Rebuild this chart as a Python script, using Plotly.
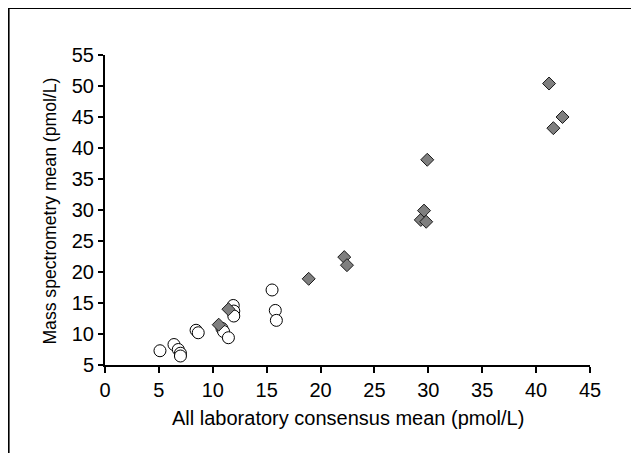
import plotly.graph_objects as go

# Open circles
circle_x = [5.1, 6.4, 6.8, 7.0, 7.0, 8.45, 8.65, 10.85, 11.0, 11.45, 11.9, 11.95, 11.95, 15.5, 15.8, 15.9]
circle_y = [7.3, 8.3, 7.5, 6.9, 6.45, 10.6, 10.2, 10.9, 10.4, 9.4, 14.6, 13.7, 12.9, 17.1, 13.8, 12.2]

# Grey diamonds
diamond_x = [10.55, 11.45, 18.9, 22.2, 22.45, 29.3, 29.6, 29.8, 29.9, 41.2, 41.6, 42.45]
diamond_y = [11.5, 14.0, 18.9, 22.4, 21.1, 28.4, 29.9, 28.1, 38.1, 50.4, 43.2, 45.0]

x_ticks = [0, 5, 10, 15, 20, 25, 30, 35, 40, 45]
y_ticks = [5, 10, 15, 20, 25, 30, 35, 40, 45, 50, 55]

x_title = "All laboratory consensus mean (pmol/L)"
y_title = "Mass spectrometry mean (pmol/L)"

# figure is drawn at an 8px offset inside the page
L, T, PW, PH = 96.5, 47.0, 485.5, 310.0

fig = go.Figure()
fig.add_trace(go.Scatter(
    x=circle_x, y=circle_y, mode="markers",
    marker=dict(symbol="circle", size=12, color="white",
                line=dict(color="black", width=1)),
    showlegend=False,
))
fig.add_trace(go.Scatter(
    x=diamond_x, y=diamond_y, mode="markers",
    marker=dict(symbol="diamond", size=10, color="#7f7f7f",
                line=dict(color="#1a1a1a", width=1)),
    showlegend=False,
))

font = dict(family="Liberation Sans, Arial, sans-serif", size=20, color="black")
yfont = dict(family="Liberation Sans, Arial, sans-serif", size=17.6, color="black")

fig.update_layout(
    width=639, height=453,
    margin=dict(l=L, r=639 - L - PW, t=T, b=453 - T - PH),
    paper_bgcolor="white", plot_bgcolor="white",
    font=font,
    xaxis=dict(
        range=[0, 45], tickvals=x_ticks, ticktext=[str(v) for v in x_ticks],
        showline=True, linecolor="black", linewidth=2,
        ticks="outside", ticklen=6, tickwidth=2, tickcolor="black",
        showgrid=False, zeroline=False, automargin=False,
        tickfont=font,
    ),
    yaxis=dict(
        range=[5, 55], tickvals=y_ticks, ticktext=[str(v) for v in y_ticks],
        showline=True, linecolor="black", linewidth=2,
        ticks="outside", ticklen=5, tickwidth=2, tickcolor="black",
        showgrid=False, zeroline=False, automargin=False,
        tickfont=font,
    ),
    annotations=[
        dict(text=x_title, xref="paper", yref="paper", x=0.5,
             y=(T + PH - 410) / PH, xanchor="center", yanchor="middle",
             showarrow=False, font=font),
        dict(text=y_title, xref="paper", yref="paper", x=(41 - L) / PW,
             y=(T + PH - (211 - 8)) / PH, xanchor="center", yanchor="middle",
             textangle=-90, showarrow=False, font=yfont),
    ],
    shapes=[dict(
        type="rect", xref="paper", yref="paper",
        x0=(0 - L) / PW, x1=1.3,
        y0=-0.5, y1=(T + PH - 0) / PH,
        line=dict(color="black", width=2), fillcolor="rgba(0,0,0,0)",
        layer="below",
    )],
)

fig.write_html("out.html")
